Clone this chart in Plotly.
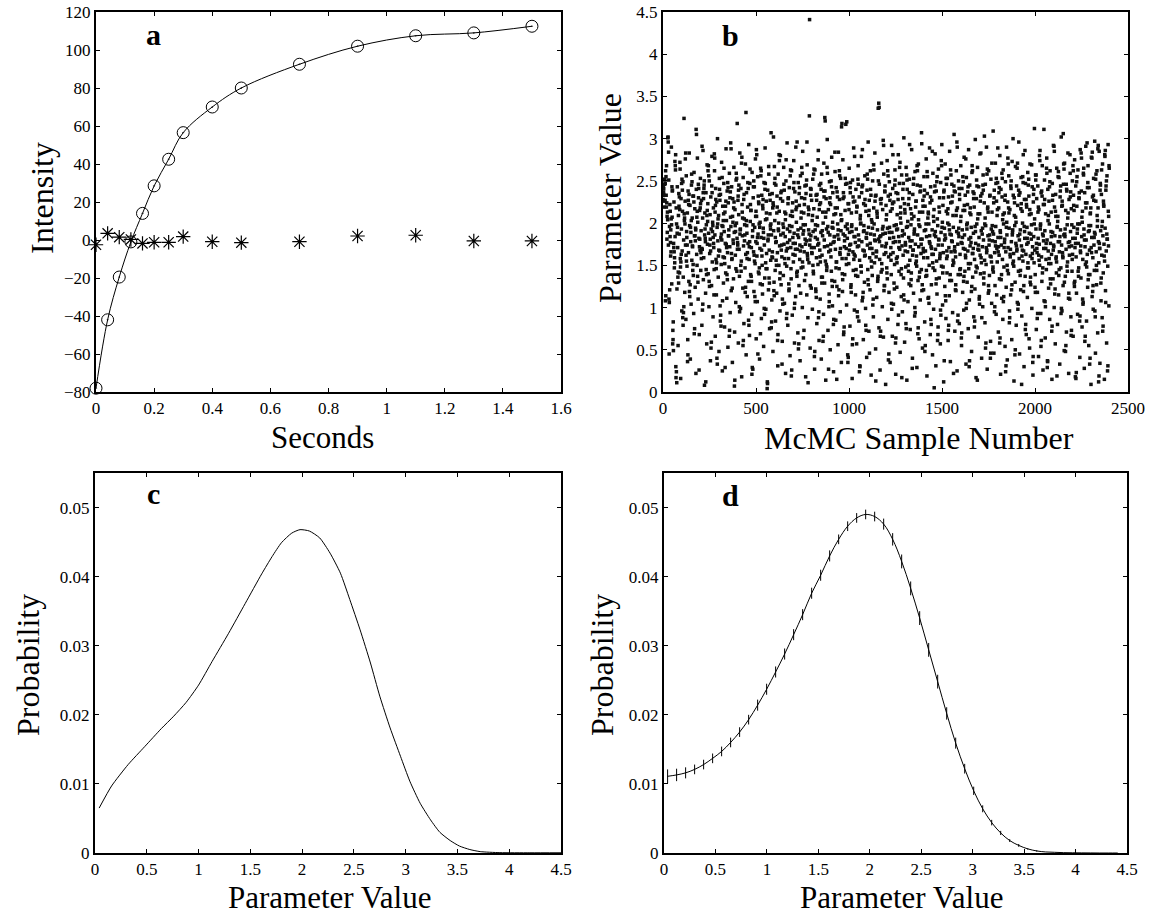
import plotly.graph_objects as go

W, H = 1153, 915
FONT = "Liberation Serif, Times New Roman, Times, serif"

# panel a: relaxation data
a_time = [0, 0.04, 0.08, 0.12, 0.16, 0.2, 0.25, 0.3, 0.4, 0.5, 0.7, 0.9, 1.1, 1.3, 1.5]
a_intensity = [-78, -42, -19.5, -1, 14, 28.5, 42.5, 56.5, 70, 80, 92.5, 102, 107.5, 109, 112.5]
a_residual = [-2.5, 3.5, 1.5, 0.3, -1.8, -1.2, -1.2, 1.8, -0.9, -1.4, -0.9, 2.1, 2.5, -0.5, -0.5]

# panel b: McMC samples, value x100 (even and odd sample numbers)
b_even = [
    228, 235, 241, 233, 226, 251, 247, 262, 255, 219, 224, 208, 213, 301, 296, 284, 110, 106, 121, 184,
    177, 192, 205, 198, 243, 238, 57, 62, 49, 171, 166, 159, 273, 268, 281, 17, 24, 11, 188, 195,
    136, 142, 129, 220, 231, 216, 264, 148, 154, 163, 247, 252, 239, 88, 79, 94, 101, 211, 206, 199,
    276, 283, 162, 155, 183, 174, 36, 44, 227, 222, 234, 119, 113, 127, 195, 189, 203, 258, 249, 173,
    144, 151, 232, 225, 69, 75, 185, 179, 192, 311, 305, 207, 214, 137, 130, 246, 241, 26, 172, 181,
    218, 223, 165, 158, 170, 291, 97, 104, 236, 229, 241, 250, 186, 193, 178, 12, 145, 139, 209, 215,
    202, 262, 268, 256, 131, 125, 174, 181, 167, 52, 59, 244, 236, 190, 197, 183, 176, 115, 282, 277,
    213, 221, 228, 146, 153, 40, 33, 199, 205, 161, 168, 233, 240, 227, 84, 91, 78, 187, 180, 254,
    108, 196, 203, 211, 265, 159, 152, 29, 220, 226, 175, 171, 139, 133, 248, 242, 185, 192, 66, 73,
    230, 237, 295, 288, 164, 157, 123, 208, 201, 176, 218, 225, 7, 14, 197, 190, 146, 259, 253, 182,
    169, 174, 232, 239, 245, 101, 95, 187, 193, 150, 143, 271, 278, 213, 206, 55, 61, 228, 234, 179,
    186, 118, 124, 331, 203, 197, 158, 165, 248, 241, 85, 79, 172, 178, 264, 222, 215, 137, 131, 21,
    29, 191, 198, 243, 250, 162, 155, 113, 107, 208, 214, 287, 281, 176, 183, 45, 232, 225, 140, 147,
    195, 201, 69, 256, 262, 168, 161, 127, 221, 228, 189, 182, 99, 92, 240, 247, 153, 146, 212, 205,
    4, 10, 179, 186, 267, 135, 129, 234, 227, 193, 199, 76, 83, 160, 166, 218, 224, 302, 120, 114,
    247, 253, 183, 177, 156, 150, 212, 219, 61, 68, 193, 200, 281, 274, 134, 141, 229, 236, 168, 174,
    33, 110, 104, 188, 195, 246, 239, 158, 152, 204, 211, 275, 87, 93, 170, 177, 223, 230, 128, 122,
    197, 190, 256, 263, 146, 19, 26, 214, 208, 183, 176, 241, 248, 99, 105, 162, 169, 290, 226, 219,
    137, 143, 186, 192, 51, 57, 235, 242, 174, 167, 117, 206, 213, 266, 259, 154, 148, 198, 191, 73,
    222, 229, 181, 175, 139, 245, 251, 296, 164, 157, 11, 210, 216, 187, 441, 180, 126, 233, 240, 171,
    165, 203, 209, 150, 143, 258, 264, 42, 48, 192, 198, 119, 112, 227, 234, 181, 174, 275, 88, 95,
    216, 222, 160, 154, 247, 240, 136, 129, 191, 185, 60, 66, 238, 231, 172, 325, 321, 207, 213, 151,
    144, 266, 259, 196, 189, 27, 101, 107, 224, 230, 168, 175, 250, 243, 132, 125, 201, 194, 80, 86,
    178, 184, 284, 218, 211, 147, 154, 15, 237, 231, 186, 192, 114, 121, 262, 256, 163, 170, 210, 203,
    314, 318, 140, 133, 229, 236, 71, 77, 179, 185, 253, 246, 158, 151, 320, 199, 193, 35, 41, 223,
    216, 168, 174, 242, 248, 124, 118, 196, 190, 56, 63, 231, 225, 157, 163, 279, 184, 177, 138, 145,
    213, 220, 95, 89, 252, 246, 173, 180, 24, 31, 205, 199, 149, 142, 236, 243, 287, 112, 118, 190,
    197, 167, 161, 228, 221, 79, 73, 182, 188, 258, 252, 133, 127, 209, 215, 46, 170, 176, 240, 233,
    155, 148, 201, 194, 103, 110, 269, 263, 186, 180, 226, 232, 13, 160, 166, 214, 207, 131, 137, 250,
    342, 337, 178, 184, 66, 72, 223, 229, 152, 145, 193, 187, 298, 292, 120, 126, 238, 244, 172, 165,
    204, 210, 141, 134, 262, 256, 38, 45, 189, 195, 227, 234, 163, 156, 105, 98, 217, 223, 281, 177,
    183, 129, 122, 245, 251, 58, 64, 198, 192, 153, 160, 235, 228, 91, 171, 178, 266, 272, 206, 212,
    139, 146, 17, 185, 191, 240, 247, 115, 109, 223, 216, 167, 174, 81, 75, 257, 251, 196, 202, 150,
    143, 229, 236, 293, 179, 172, 126, 133, 211, 205, 28, 162, 168, 246, 253, 187, 193, 100, 94, 219,
    226, 155, 149, 268, 262, 69, 76, 204, 198, 136, 142, 237, 244, 181, 175, 307, 120, 127, 213, 220,
    166, 159, 232, 239, 48, 55, 192, 199, 144, 138, 261, 255, 206, 213, 112, 105, 178, 185, 224, 231,
    86, 80, 170, 163, 285, 153, 147, 208, 202, 5, 237, 244, 190, 184, 128, 134, 249, 255, 61, 68,
    174, 181, 219, 213, 158, 164, 97, 91, 274, 268, 195, 201, 141, 148, 230, 237, 37, 180, 186, 114,
    108, 253, 246, 167, 161, 211, 217, 73, 79, 198, 192, 132, 139, 263, 257, 186, 179, 225, 232, 150,
    156, 22, 244, 238, 172, 166, 121, 127, 209, 215, 296, 290, 84, 91, 188, 194, 241, 234, 145, 139,
    202, 208, 64, 70, 176, 183, 255, 249, 131, 137, 221, 215, 169, 162, 276, 99, 105, 193, 200, 237,
    243, 152, 146, 30, 37, 212, 218, 183, 177, 119, 125, 268, 262, 164, 170, 229, 235, 77, 84, 196,
    190, 142, 149, 251, 244, 14, 205, 211, 174, 168, 110, 104, 282, 226, 232, 159, 153, 88, 187, 194,
    245, 239, 135, 141, 303, 199, 206, 52, 58, 171, 165, 258, 264, 219, 213, 126, 120, 180, 186, 233,
    40, 46, 160, 154, 271, 197, 190, 148, 142, 224, 230, 95, 101, 178, 173, 247, 253, 115, 209, 216,
    289, 166, 172, 236, 242, 58, 64, 189, 183, 133, 139, 259, 253, 204, 210, 107, 113, 171, 177, 227,
    233, 24, 31, 195, 201, 150, 144, 277, 270, 218, 212, 82, 88, 163, 169, 244, 250, 121, 127, 186,
    192, 300, 155, 149, 230, 224, 44, 50, 207, 201, 173, 167, 265, 271, 98, 104, 239, 233, 180, 187,
    138, 144, 217, 223, 9, 161, 168, 255, 248, 119, 126, 196, 190, 286, 74, 80, 228, 222, 175, 182,
    147, 153, 245, 252, 63, 210, 216, 130, 136, 187, 181, 269, 158, 164, 35, 42, 234, 240, 199, 205,
    124, 118, 251, 257, 176, 170, 87, 93, 213, 219, 162, 156, 280, 274, 193, 199, 54, 61, 238, 232,
    141, 147, 185, 179, 311, 222, 228, 107, 101, 170, 176, 265, 259, 29, 36, 203, 209, 152, 158, 243,
    249, 134, 128, 190, 184, 72, 78, 227, 233, 168, 174, 291, 285, 116, 122, 214, 208, 160, 154, 19,
    196, 202, 255, 261, 138, 145, 178, 184, 238, 244, 93, 99, 220, 226, 165, 159, 306, 270, 264, 130,
    187, 193, 48, 55, 246, 240, 149, 143, 206, 212, 111, 117, 172, 178, 281, 231, 237, 67, 73, 198,
    157, 163, 268, 262, 221, 215, 125, 131, 182, 176, 16, 23, 249, 255, 193, 199, 143, 137, 230, 236,
    84, 90, 167, 173, 283, 277, 207, 201, 110, 104, 259, 265, 186, 180, 60, 66, 224, 218, 154, 148,
    295, 242, 248, 133, 139, 197, 191, 33, 40, 212, 218, 171, 165, 277, 284, 119, 126, 233, 227, 183,
    189, 96, 89, 252, 258, 150, 144, 209, 203, 288, 292, 12, 19, 176, 170, 239, 245, 129, 135, 263,
    196, 202, 72, 78, 226, 220, 161, 155, 279, 286, 106, 244, 250, 187, 181, 25, 31, 214, 208, 268,
]
b_odd = [
    242, 237, 219, 252, 246, 227, 108, 114, 233, 268, 181, 189, 204, 302, 174, 251, 45, 196, 222, 214,
    161, 166, 290, 128, 207, 239, 73, 83, 176, 225, 147, 153, 184, 263, 30, 218, 199, 122, 243, 171,
    55, 209, 235, 187, 141, 272, 158, 16, 229, 193, 96, 167, 214, 249, 136, 180, 324, 203, 118, 226,
    174, 86, 256, 190, 149, 212, 62, 238, 165, 131, 283, 197, 221, 39, 178, 104, 245, 156, 206, 172,
    232, 138, 93, 260, 185, 217, 124, 194, 22, 240, 163, 150, 277, 201, 110, 230, 182, 68, 215, 168,
    253, 144, 191, 227, 79, 169, 206, 286, 133, 159, 245, 8, 212, 182, 117, 236, 198, 57, 269, 175,
    223, 140, 188, 101, 250, 164, 210, 37, 231, 193, 126, 279, 154, 201, 89, 218, 171, 145, 262, 186,
    66, 241, 157, 115, 225, 195, 300, 179, 136, 209, 48, 253, 167, 102, 234, 183, 151, 272, 197, 25,
    220, 160, 129, 247, 190, 77, 213, 176, 141, 288, 203, 111, 238, 165, 53, 224, 185, 148, 259, 172,
    94, 207, 196, 120, 243, 158, 35, 229, 180, 134, 266, 189, 71, 216, 162, 106, 251, 200, 143, 318,
    177, 227, 58, 210, 169, 137, 283, 192, 99, 241, 155, 18, 222, 185, 123, 254, 173, 81, 205, 198,
    147, 270, 163, 44, 236, 188, 113, 219, 176, 131, 293, 157, 67, 247, 202, 139, 215, 171, 92, 260,
    184, 27, 230, 166, 119, 243, 195, 152, 276, 178, 63, 208, 161, 107, 255, 187, 142, 223, 199, 39,
    170, 128, 265, 183, 87, 233, 150, 116, 217, 194, 54, 248, 174, 135, 289, 204, 98, 226, 164, 146,
    12, 239, 181, 121, 258, 168, 75, 211, 197, 156, 307, 186, 109, 235, 159, 48, 221, 191, 130, 267,
    203, 144, 84, 245, 178, 117, 232, 165, 31, 258, 191, 150, 214, 173, 96, 280, 186, 127, 238, 160,
    60, 226, 199, 138, 266, 175, 105, 213, 184, 22, 250, 167, 149, 295, 193, 79, 229, 158, 120, 242,
    180, 43, 209, 171, 134, 262, 196, 91, 224, 163, 154, 274, 188, 58, 237, 176, 113, 216, 201, 141,
    296, 169, 70, 248, 183, 126, 221, 157, 37, 256, 194, 147, 230, 172, 100, 285, 187, 64, 212, 166,
    132, 244, 198, 18, 235, 179, 115, 269, 161, 88, 219, 192, 153, 327, 174, 52, 241, 185, 123, 227,
    164, 98, 252, 190, 140, 217, 171, 27, 263, 183, 122, 233, 159, 81, 207, 197, 151, 286, 176, 61,
    245, 168, 110, 224, 189, 39, 258, 162, 136, 213, 200, 92, 271, 180, 129, 238, 155, 14, 229, 193,
    148, 299, 173, 73, 216, 166, 116, 249, 186, 50, 222, 160, 143, 278, 195, 102, 236, 177, 24, 210,
    184, 131, 261, 169, 85, 242, 154, 125, 218, 199, 56, 284, 181, 146, 228, 165, 95, 253, 191, 35,
    204, 158, 119, 275, 187, 68, 231, 172, 139, 215, 196, 317, 170, 103, 247, 182, 44, 223, 163, 152,
    265, 189, 78, 236, 175, 127, 212, 198, 16, 251, 166, 144, 289, 184, 97, 226, 161, 115, 240, 193,
    57, 219, 172, 137, 268, 186, 84, 231, 156, 30, 209, 200, 149, 279, 178, 108, 245, 168, 62, 223,
    191, 130, 256, 162, 99, 214, 183, 41, 239, 174, 145, 296, 195, 72, 227, 159, 121, 262, 187, 20,
    204, 170, 138, 250, 164, 89, 218, 199, 153, 283, 179, 51, 233, 167, 112, 211, 192, 134, 336, 181,
    76, 246, 157, 26, 228, 185, 142, 271, 173, 101, 216, 196, 65, 258, 163, 126, 237, 188, 9, 221,
    176, 147, 274, 194, 86, 232, 160, 118, 249, 182, 35, 214, 171, 139, 292, 189, 66, 241, 165, 104,
    225, 197, 151, 263, 178, 21, 236, 158, 124, 210, 193, 80, 281, 184, 143, 247, 169, 47, 219, 200,
    113, 257, 173, 95, 229, 162, 135, 301, 187, 59, 212, 177, 148, 266, 195, 14, 240, 166, 107, 222,
    183, 128, 252, 156, 74, 217, 198, 141, 287, 179, 40, 234, 168, 117, 208, 190, 90, 261, 175, 152,
    226, 161, 29, 245, 186, 132, 270, 172, 63, 213, 196, 109, 238, 164, 145, 294, 181, 52, 227, 170,
    121, 255, 191, 83, 220, 167, 137, 276, 184, 19, 235, 159, 111, 211, 199, 150, 289, 176, 68, 243,
    172, 127, 227, 192, 44, 259, 163, 98, 216, 186, 144, 282, 169, 31, 238, 155, 116, 205, 197, 77,
    264, 180, 135, 230, 161, 57, 248, 189, 149, 293, 174, 103, 221, 165, 12, 239, 194, 125, 270, 182,
    87, 214, 158, 141, 253, 200, 61, 231, 171, 114, 285, 187, 36, 224, 166, 132, 246, 178, 94, 209,
    195, 153, 305, 168, 72, 237, 160, 120, 262, 190, 25, 218, 175, 139, 250, 184, 81, 228, 163, 146,
    268, 177, 55, 241, 192, 118, 215, 170, 97, 278, 186, 143, 233, 159, 33, 254, 198, 130, 222, 167,
    75, 287, 181, 109, 245, 173, 152, 210, 195, 48, 260, 164, 136, 237, 188, 89, 219, 157, 122, 299,
    176, 17, 229, 199, 147, 266, 169, 65, 243, 183, 113, 211, 162, 140, 283, 191, 40, 235, 172, 101,
    257, 180, 128, 224, 156, 82, 246, 197, 151, 290, 168, 27, 217, 185, 117, 262, 174, 138, 232, 161,
    60, 252, 193, 105, 213, 179, 145, 309, 187, 46, 239, 165, 126, 271, 196, 92, 226, 170, 154, 248,
    183, 71, 218, 162, 134, 280, 191, 21, 240, 174, 111, 231, 157, 86, 263, 199, 148, 212, 181, 54,
    249, 166, 124, 290, 186, 38, 225, 171, 140, 256, 194, 96, 216, 160, 115, 241, 178, 62, 273, 189,
    152, 233, 164, 13, 209, 197, 130, 267, 176, 79, 244, 169, 106, 221, 185, 143, 296, 158, 45, 236,
    192, 121, 254, 173, 90, 214, 200, 155, 281, 167, 30, 228, 182, 137, 247, 163, 68, 219, 195, 112,
    260, 177, 147, 232, 188, 52, 270, 161, 127, 211, 198, 99, 243, 172, 20, 225, 184, 153, 312, 168,
    139, 257, 193, 74, 229, 165, 118, 244, 182, 42, 216, 175, 150, 286, 197, 93, 236, 160, 131, 268,
    187, 26, 222, 170, 108, 251, 191, 64, 211, 157, 145, 277, 180, 37, 240, 167, 123, 226, 199, 86,
    262, 176, 152, 213, 163, 15, 247, 189, 134, 292, 172, 100, 219, 185, 57, 234, 158, 141, 265, 195,
    80, 208, 178, 115, 254, 166, 33, 231, 192, 147, 302, 174, 96, 221, 161, 126, 246, 186, 49, 271,
    184, 137, 215, 169, 71, 238, 198, 154, 283, 177, 22, 228, 162, 110, 259, 190, 89, 217, 173, 143,
    250, 182, 66, 233, 195, 129, 275, 171, 18, 244, 160, 117, 220, 188, 92, 263, 176, 147, 229, 199,
    41, 287, 165, 135, 238, 184, 77, 214, 157, 106, 257, 193, 28, 236, 172, 151, 291, 180, 84, 224,
    163, 124, 268, 190, 55, 242, 168, 139, 211, 197, 9, 278, 183, 113, 231, 159, 98, 253, 174, 144,
    297, 187, 46, 226, 166, 127, 262, 196, 70, 218, 178, 153, 285, 170, 34, 247, 191, 108, 234, 162,
    88, 270, 185, 141, 222, 175, 15, 281, 194, 120, 239, 167, 58, 256, 181, 149, 293, 173, 102, 265,
]
b_x = [2 * i for i in range(len(b_even))] + [2 * i + 1 for i in range(len(b_odd))]
b_y = [v / 100 for v in b_even + b_odd]

# panel c: smooth posterior
c_param = [0.04, 0.16, 0.32, 0.48, 0.64, 0.76, 0.88, 1.0, 1.13, 1.29, 1.45, 1.61, 1.71, 1.8, 1.9, 1.98,
           2.07, 2.17, 2.27, 2.37, 2.46, 2.56, 2.66, 2.75, 2.85, 2.95, 3.04, 3.14, 3.24, 3.33, 3.43,
           3.52, 3.62, 3.72, 3.91, 4.2, 4.5]
c_prob = [0.0065, 0.0097, 0.0128, 0.0154, 0.0180, 0.0198, 0.0218, 0.0243, 0.0277, 0.0318, 0.0361,
          0.0404, 0.0429, 0.0449, 0.0463, 0.0468, 0.0466, 0.0456, 0.0434, 0.0405, 0.0367, 0.0323,
          0.0275, 0.0227, 0.0181, 0.0140, 0.0104, 0.0072, 0.0048, 0.0030, 0.0018, 0.0010, 0.0005,
          0.0002, 0.00005, 0.00003, 0.00003]

# panel d: histogram posterior with error bars
d_param = [round(0.035 + 0.0875 * k, 4) for k in range(51)]
d_prob = [0.0111, 0.0113, 0.0116, 0.0121, 0.0128, 0.0137, 0.0147, 0.0160, 0.0175, 0.0193,
          0.0214, 0.0237, 0.0262, 0.0288, 0.0316, 0.0345, 0.0376, 0.0402, 0.0430, 0.0454,
          0.0473, 0.0485, 0.0490, 0.0487, 0.0476, 0.0454, 0.0422, 0.0383, 0.0340, 0.0294,
          0.0248, 0.0202, 0.0159, 0.0122, 0.0090, 0.0064, 0.0044, 0.0029, 0.0018, 0.0011,
          0.0006, 0.0003, 0.00015, 0.0001, 0.00005, 0.00003, 0.00002, 0.00001, 0, 0, 0]
d_err = [0.0010, 0.0009, 0.0008, 0.0007, 0.0007, 0.0007, 0.0007, 0.0007, 0.0007, 0.0007,
         0.0008, 0.0008, 0.0008, 0.0008, 0.0008, 0.0008, 0.0008, 0.0008, 0.0008, 0.0007,
         0.0007, 0.0007, 0.0007, 0.0007, 0.0008, 0.0009, 0.0010, 0.0010, 0.0010, 0.0010,
         0.0010, 0.0009, 0.0008, 0.0007, 0.0006, 0.0005, 0.0004, 0.0003, 0.0002, 0.0002,
         0.0001, 0.0001, 0, 0, 0, 0, 0, 0, 0, 0, 0]


def px(x):
    return x / W


def py(y):
    return 1 - y / H


fig = go.Figure()

# a
fig.add_trace(go.Scatter(x=a_time, y=a_intensity, mode="lines", line=dict(color="black", width=1, shape="spline"),
                         xaxis="x", yaxis="y"))
fig.add_trace(go.Scatter(x=a_time, y=a_intensity, mode="markers", cliponaxis=False,
                         marker=dict(symbol="circle-open-dot", size=12, color="black", line=dict(width=1)),
                         xaxis="x", yaxis="y"))
fig.add_trace(go.Scatter(x=a_time, y=a_residual, mode="markers", cliponaxis=False,
                         marker=dict(symbol="asterisk-open", size=12, color="black", line=dict(width=1.2, color="black")),
                         xaxis="x", yaxis="y"))
# b
fig.add_trace(go.Scatter(x=b_x, y=b_y, mode="markers", cliponaxis=False,
                         marker=dict(symbol="square", size=3.5, color="#111111", line=dict(width=0)),
                         xaxis="x2", yaxis="y2"))
# c
fig.add_trace(go.Scatter(x=c_param, y=c_prob, mode="lines",
                         line=dict(color="black", width=1, shape="spline", smoothing=0.6),
                         xaxis="x3", yaxis="y3"))
# d
fig.add_trace(go.Scatter(x=d_param, y=d_prob, mode="lines", line=dict(color="black", width=1, shape="spline"),
                         error_y=dict(type="data", array=d_err, color="black", thickness=1, width=0),
                         xaxis="x4", yaxis="y4"))

axis_style = dict(showgrid=False, zeroline=False, showline=True, linecolor="black", linewidth=2,
                  mirror="ticks", ticks="inside", ticklen=4, tickwidth=1, tickcolor="black",
                  automargin=False, tickfont=dict(family=FONT, size=17, color="black"))

top = [py(392), py(12)]
bottom = [py(853), py(473)]

fig.update_layout(
    template="none",
    width=W, height=H, margin=dict(l=0, r=0, t=0, b=0, pad=0),
    paper_bgcolor="white", plot_bgcolor="white", showlegend=False,
    font=dict(family=FONT, color="black"),
    xaxis=dict(domain=[px(96), px(561)], range=[0, 1.6], dtick=0.2, anchor="y", **axis_style),
    yaxis=dict(domain=top, range=[-80, 120], dtick=20, anchor="x", **axis_style),
    xaxis2=dict(domain=[px(663), px(1128)], range=[0, 2500], dtick=500, anchor="y2", **axis_style),
    yaxis2=dict(domain=top, range=[0, 4.5], dtick=0.5, anchor="x2", **axis_style),
    xaxis3=dict(domain=[px(95), px(561)], range=[0, 4.5], dtick=0.5, anchor="y3", **axis_style),
    yaxis3=dict(domain=bottom, range=[0, 0.055], tickvals=[0, 0.01, 0.02, 0.03, 0.04, 0.05], anchor="x3", **axis_style),
    xaxis4=dict(domain=[px(664), px(1127)], range=[0, 4.5], dtick=0.5, anchor="y4", **axis_style),
    yaxis4=dict(domain=bottom, range=[0, 0.055], tickvals=[0, 0.01, 0.02, 0.03, 0.04, 0.05], anchor="x4", **axis_style),
)

title_font = dict(family=FONT, size=32, color="black")
bottom_title_font = dict(family=FONT, size=31, color="black")
letter_font = dict(family=FONT, size=30, color="black")
texts = [
    ("Intensity", 42, 198, -90, title_font),
    ("Seconds", 322, 437, 0, bottom_title_font),
    ("Parameter Value", 610, 198, -90, title_font),
    ("McMC Sample Number", 919, 438, 0, title_font),
    ("Probability", 28, 665, -90, title_font),
    ("Parameter Value", 329, 897, 0, bottom_title_font),
    ("Probability", 602, 665, -90, title_font),
    ("Parameter Value", 901, 897, 0, bottom_title_font),
    ("<b>a</b>", 153, 34, 0, letter_font),
    ("<b>b</b>", 731, 36, 0, letter_font),
    ("<b>c</b>", 153, 493, 0, letter_font),
    ("<b>d</b>", 731, 495, 0, letter_font),
]
for t, x, y, ang, f in texts:
    fig.add_annotation(text=t, x=px(x), y=py(y), xref="paper", yref="paper", showarrow=False,
                       textangle=ang, font=f, xanchor="center", yanchor="middle")

# page body has a default 8px margin; remove it so the figure sits at the window's corner
fig.write_html("out.html", config={"displayModeBar": False},
               post_script="document.body.style.margin='0px';")
